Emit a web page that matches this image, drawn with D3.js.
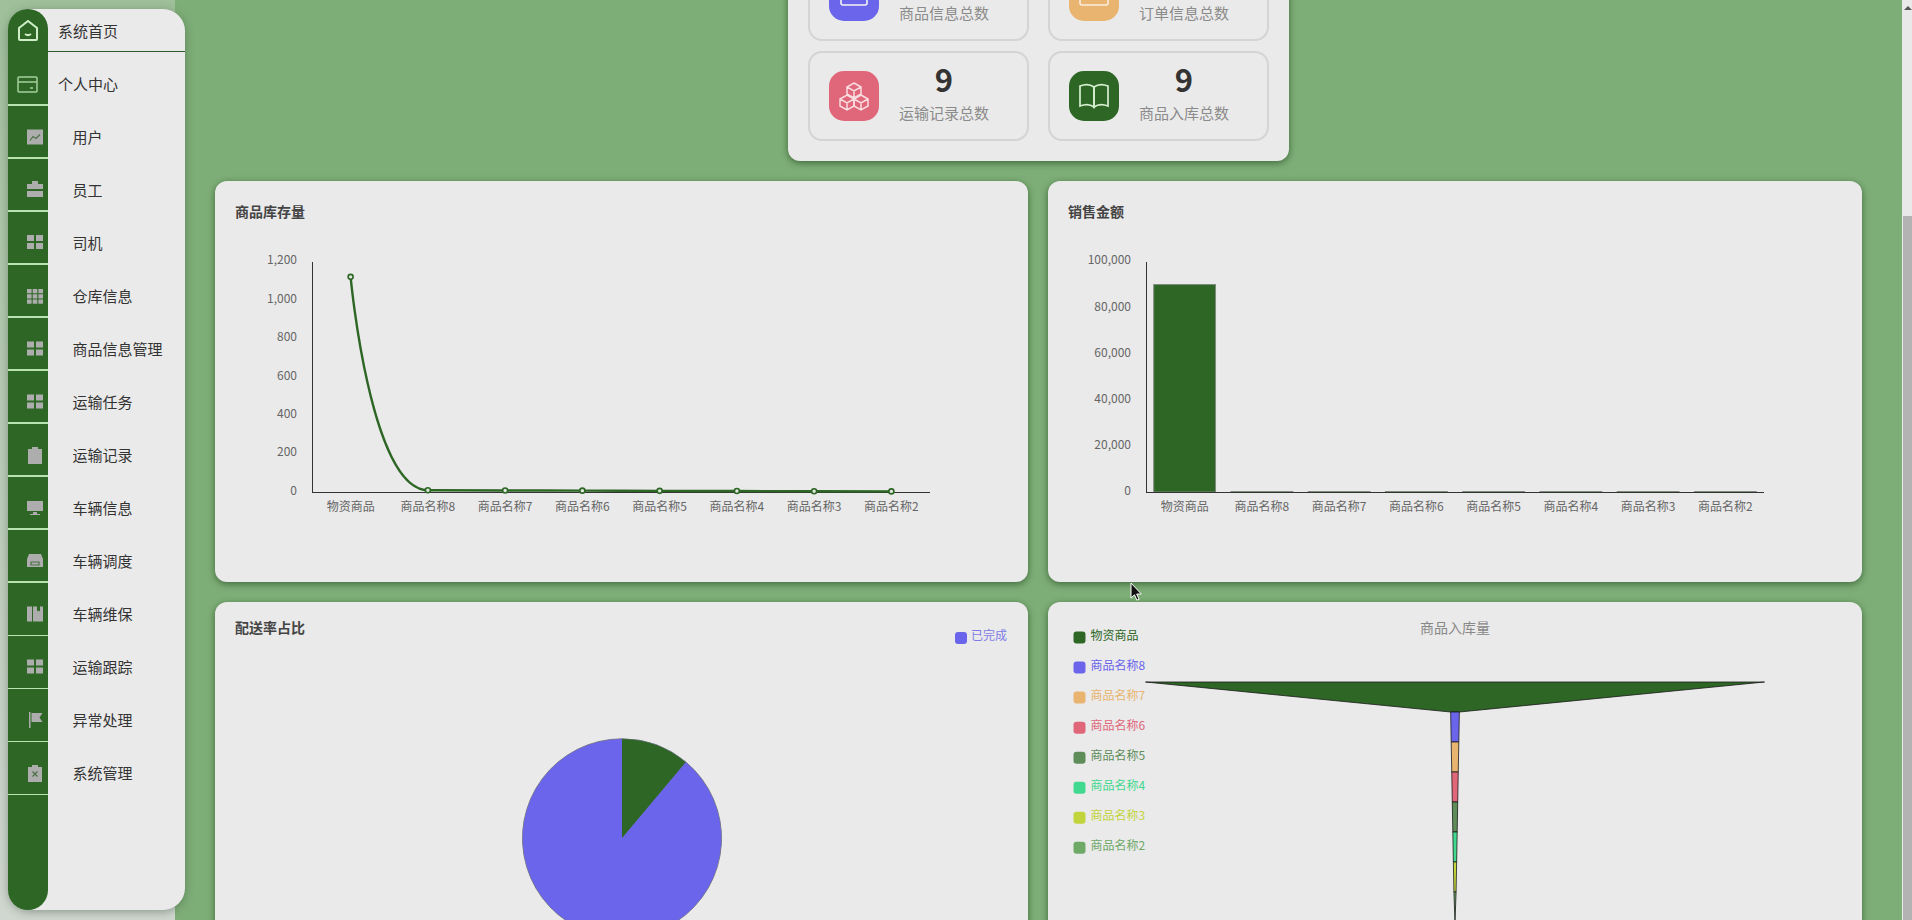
<!DOCTYPE html>
<html lang="zh">
<head>
<meta charset="utf-8">
<title>物流管理系统</title>
<script src="https://cdn.jsdelivr.net/npm/d3@7/dist/d3.min.js"></script>
<style>
html,body{margin:0;padding:0;width:1912px;height:920px;overflow:hidden;background:#7eae77;font-family:"Noto Sans CJK SC","Noto Sans",sans-serif;}
#leftbg{position:absolute;left:0;top:0;width:175px;height:920px;background:linear-gradient(#9fbf9a 0%,#b9cbb6 45%,#d0d7d0 100%);}
#main{position:absolute;left:175px;top:0;width:1727px;height:920px;background:#7eae77;}
#scrollbar{position:absolute;left:1902px;top:0;width:10px;height:920px;background:#e9e9e9;}
#thumb{position:absolute;left:1px;top:216px;width:9px;height:704px;background:#b3b3b3;}
#arrow{position:absolute;left:2px;top:6px;width:0;height:0;border-left:4px solid transparent;border-right:4px solid transparent;border-bottom:4px solid #555;}
.card{position:absolute;background:#eaeaea;border-radius:12px;box-shadow:0 2px 7px rgba(20,60,20,.6);}
.tile{position:absolute;box-sizing:border-box;border:2px solid #d4d4d4;border-radius:14px;height:90px;width:221px;}
.ico{position:absolute;left:19px;top:18px;width:50px;height:50px;border-radius:15px;}
.num{position:absolute;left:69px;width:130px;text-align:center;top:8px;font-size:31px;font-weight:700;color:#333;line-height:36px;}
.lab{position:absolute;left:69px;width:130px;text-align:center;top:49px;font-size:15px;color:#8b8b8b;line-height:22px;}
#side{position:absolute;left:8px;top:9px;width:177px;height:901px;background:#eaeaea;border-radius:22px;box-shadow:0 2px 10px rgba(60,80,60,.45);}
#rail{position:absolute;left:0;top:0;width:40px;height:901px;background:#2d6625;border-radius:20px;}
.sep{position:absolute;left:0;width:40px;height:1.5px;background:#b9e3b0;}
.item{position:absolute;font-size:15px;color:#333;line-height:22px;white-space:nowrap;}
#chartSvg{position:absolute;left:0;top:0;}
#chartSvg text{font-family:"Noto Sans CJK SC","Noto Sans",sans-serif;}
</style>
</head>
<body>
<div id="leftbg"></div>
<div id="main"></div>
<div id="scrollbar"><div id="arrow"></div><div id="thumb"></div></div>
<div id="side"><div id="rail"></div></div>
<div id="cards"></div>
<svg id="chartSvg" width="1912" height="920"></svg>
<script>
// ---------- data ----------
const categories = ["物资商品","商品名称8","商品名称7","商品名称6","商品名称5","商品名称4","商品名称3","商品名称2"];
const stockValues = [1120,9,8,7,6,5,4,3];
const salesValues = [90000,200,200,200,200,200,200,200];
const inboundValues = [570,8,7,6,5,4,3,2];
const stockTicks = [0,200,400,600,800,1000,1200];
const salesTicks = [0,20000,40000,60000,80000,100000];
const pieValues = [1,8];
const pieLegend = ["已完成"];
const palette = ["#2d6625","#6a65ea","#e8b46f","#e0677a","#5e8d5a","#41d98f","#c2d43c","#6ea968"];
const menuTop = ["系统首页","个人中心"];
const menuSub = ["用户","员工","司机","仓库信息","商品信息管理","运输任务","运输记录","车辆信息","车辆调度","车辆维保","运输跟踪","异常处理","系统管理"];
const statNames = ["商品信息总数","订单信息总数","运输记录总数","商品入库总数"];
// the numbers of the first row are scrolled out of the picture
const statValues = [null,null,9,9];
const statColors = ["#6a65ea","#e8b46f","#e0677a","#2d6625"];

// ---------- page chrome ----------
const cards = d3.select("#cards");
function card(x,y,w,h){return cards.append("div").attr("class","card").style("left",x+"px").style("top",y+"px").style("width",w+"px").style("height",h+"px");}
const statCard = card(788,-40,501,201);
card(215,181,813,401);
card(1048,181,814,401);
card(215,602,813,420);
card(1048,602,814,420);

const tilePos = [[20,-9],[260,-9],[20,91],[260,91]];
const iconPaths = [
  '<rect x="12" y="6" width="26" height="28" rx="2" fill="none" stroke="#f4f4f4" stroke-width="1.6"/><path d="M19 26h12" stroke="#f4f4f4" stroke-width="1.6"/>',
  '<rect x="11" y="6" width="28" height="28" rx="2" fill="none" stroke="#fbeedd" stroke-width="1.6"/><path d="M20 26h10" stroke="#fbeedd" stroke-width="1.6"/>',
  '<g fill="none" stroke="#f9dde1" stroke-width="1.5"><path d="M25 12l7 4v7l-7 4-7-4v-7z M18 16l7 4 7-4 M25 20v7"/><path d="M18 24l7 4v7l-7 4-7-4v-7z M11 28l7 4 7-4 M18 32v7"/><path d="M32 24l7 4v7l-7 4-7-4v-7z M25 28l7 4 7-4 M32 32v7"/></g>',
  '<g fill="none" stroke="#d6efcf" stroke-width="1.7"><path d="M11 15c5-2 10-2 14 1v20c-4-3-9-3-14-1z"/><path d="M39 15c-5-2-10-2-14 1v20c4-3 9-3 14-1z"/></g>'
];
statNames.forEach((name,i)=>{
  const t = statCard.append("div").attr("class","tile").style("left",tilePos[i][0]+"px").style("top",tilePos[i][1]+"px");
  t.append("div").attr("class","ico").style("background",statColors[i])
    .html('<svg width="50" height="50">'+iconPaths[i]+'</svg>');
  if(statValues[i]!==null) t.append("div").attr("class","num").text(statValues[i]);
  t.append("div").attr("class","lab").text(name);
});

// sidebar
const side = d3.select("#side"), rail = d3.select("#rail");
const rowH = 53.05;
menuTop.forEach((m,i)=>{
  side.append("div").attr("class","item").style("left","50px").style("top",(i===0?11:64)+"px").text(m);
});
side.append("div").style("position","absolute").style("left","40px").style("top","42px").style("width","137px").style("height","1.2px").style("background","#2d5a28");
menuSub.forEach((m,i)=>{
  side.append("div").attr("class","item").style("left","64.5px").style("top",(116.6+i*rowH)+"px").text(m);
});
d3.range(14).forEach(i=>{
  rail.append("div").attr("class","sep").style("top",(95+i*rowH)+"px");
});
const iconColor="#adadad";
const railSvg = rail.append("svg").attr("width",40).attr("height",901).style("position","absolute").style("left",0).style("top",0);
railSvg.append("path").attr("fill","none").attr("stroke","#cfeec8").attr("stroke-width",2)
  .attr("d","M11 19l9-7 9 7v11a1 1 0 0 1-1 1h-16a1 1 0 0 1-1-1z M17 25c2 1.5 4 1.5 6 0");
railSvg.append("path").attr("fill","none").attr("stroke","#a4d09c").attr("stroke-width",1.5)
  .attr("d","M11 68h17a1 1 0 0 1 1 1v13a1 1 0 0 1-1 1h-17a1 1 0 0 1-1-1v-13a1 1 0 0 1 1-1z M10 73h19 M22 79h3");
const gridIcon="M0 0h7v6h-7z M9 0h7v6h-7z M0 8h7v6h-7z M9 8h7v6h-7z";
const grid9="M0 0h4.6v4.2h-4.6z M5.7 0h4.6v4.2h-4.6z M11.4 0h4.6v4.2h-4.6z M0 5.3h4.6v4.2h-4.6z M5.7 5.3h4.6v4.2h-4.6z M11.4 5.3h4.6v4.2h-4.6z M0 10.6h4.6v4.2h-4.6z M5.7 10.6h4.6v4.2h-4.6z M11.4 10.6h4.6v4.2h-4.6z";
const subIcons = [
  "M0 0h16v15h-16z",
  "M5 2v-3h6v3h5v5h-16v-5z M0 9h16v6h-16z",
  gridIcon, grid9, gridIcon, gridIcon,
  "M1 1h4v-2h6v2h4v15h-14z",
  "M0 0h16v10h-16z M6 11h4v2h3v1h-10v-1h3z",
  "M2 0h12l2 5v8h-16v-8z",
  "M0 0h5v15h-5z M6 0h4v5l1.5-1 1.5 1v-5h3v15h-10z",
  gridIcon,
  "M2 -1h1.5v16h-1.5z M4.5 0h11l-3 4.5 3 4.5h-11z",
  "M1 1h4v-2h6v2h4v15h-14z"
];
const iconDetail = {
  0:"M3 11l3-4 3 2 4-4",
  8:"M4 8h8v3h-8z",
  12:"M5.5 5.5l5 5 M10.5 5.5l-5 5"
};
const iconYs = [129.5,182,235,289,341.5,394.5,448,501,554,606.5,659.5,713,766];
subIcons.forEach((d,i)=>{
  const tr="translate(19,"+(iconYs[i]-9)+")";
  railSvg.append("path").attr("transform",tr).attr("fill",iconColor).attr("d",d);
  if(iconDetail[i]) railSvg.append("path").attr("transform",tr).attr("fill","none").attr("stroke","#4c7046").attr("stroke-width",1.2).attr("d",iconDetail[i]);
});

// ---------- charts ----------
const svg = d3.select("#chartSvg");
const fmt = d3.format(",");
const tickFill="#666";

// ECharts-like smooth segment curve
function smoothCurve(context){
  const smooth=0.5; let pts=[];
  return {
    areaStart(){},areaEnd(){},
    lineStart(){pts=[];},
    point(x,y){pts.push([x,y]);},
    lineEnd(){
      context.moveTo(pts[0][0],pts[0][1]);
      let cpx=pts[0][0],cpy=pts[0][1];
      for(let i=1;i<pts.length;i++){
        const [x,y]=pts[i],[px,py]=pts[i-1];
        const n=pts[i+1];
        if(!n){context.bezierCurveTo(cpx,cpy,x,y,x,y);break;}
        const vx=n[0]-px,vy=n[1]-py;
        const lp=Math.hypot(x-px,y-py),ln=Math.hypot(n[0]-x,n[1]-y);
        const ratio=ln/(ln+lp);
        let c1x=x+vx*smooth*ratio,c1y=y+vy*smooth*ratio;
        c1x=Math.min(c1x,Math.max(n[0],x));c1y=Math.min(c1y,Math.max(n[1],y));
        c1x=Math.max(c1x,Math.min(n[0],x));c1y=Math.max(c1y,Math.min(n[1],y));
        let dx=c1x-x,dy=c1y-y;
        let c0x=x-dx*lp/ln,c0y=y-dy*lp/ln;
        c0x=Math.min(c0x,Math.max(px,x));c0y=Math.min(c0y,Math.max(py,y));
        c0x=Math.max(c0x,Math.min(px,x));c0y=Math.max(c0y,Math.min(py,y));
        dx=x-c0x;dy=y-c0y;
        c1x=x+dx*ln/lp;c1y=y+dy*ln/lp;
        context.bezierCurveTo(cpx,cpy,c0x,c0y,x,y);
        cpx=c1x;cpy=c1y;
      }
    }
  };
}

function axes(g,x,y,ticks){
  const ax=g.append("g").attr("transform","translate(0,"+y.range()[0]+")")
    .call(d3.axisBottom(x).tickSize(0).tickPadding(8));
  ax.select(".domain").attr("stroke","#333").attr("d","M"+x.range()[0]+",0.5H"+x.range()[1]);
  ax.selectAll("text").attr("fill",tickFill).attr("font-size",12).attr("dy","0.9em");
  const ay=g.append("g").attr("transform","translate("+x.range()[0]+",0)")
    .call(d3.axisLeft(y).tickValues(ticks).tickFormat(fmt).tickSize(0).tickPadding(15));
  ay.select(".domain").attr("stroke","#333");
  ay.selectAll("text").attr("fill",tickFill).attr("font-size",12).attr("dy","0.2em");
}
function title(txt,x,y){
  svg.append("text").attr("x",x).attr("y",y).attr("font-size",14).attr("font-weight",700).attr("fill","#444").attr("dominant-baseline","middle").text(txt);
}

// stock line
title("商品库存量",235,213.5);
const g1=svg.append("g");
const x1=d3.scaleBand().domain(categories).range([312,930]);
const y1=d3.scaleLinear().domain([0,1200]).range([492,261.5]);
axes(g1,x1,y1,stockTicks);
const lineGen=d3.line().x((d,i)=>x1(categories[i])+x1.bandwidth()/2).y(d=>y1(d)).curve(smoothCurve);
g1.append("path").datum(stockValues).attr("fill","none").attr("stroke","#2d6625").attr("stroke-width",2.4).attr("d",lineGen);
g1.selectAll("circle").data(stockValues).join("circle")
  .attr("cx",(d,i)=>x1(categories[i])+x1.bandwidth()/2).attr("cy",d=>y1(d)).attr("r",2.5)
  .attr("fill","#dfe8dd").attr("stroke","#2d6625").attr("stroke-width",1.6);

// sales bars
title("销售金额",1068,213.5);
const g2=svg.append("g");
const x2=d3.scaleBand().domain(categories).range([1146,1764]).paddingInner(0.2).paddingOuter(0.1);
const y2=d3.scaleLinear().domain([0,100000]).range([492,261.5]);
const x2axis=d3.scaleBand().domain(categories).range([1146,1764]);
g2.selectAll("rect").data(salesValues).join("rect")
  .attr("x",(d,i)=>x2(categories[i])).attr("width",x2.bandwidth())
  .attr("y",d=>y2(d)).attr("height",d=>y2(0)-y2(d))
  .attr("fill","#2d6625").attr("stroke","#7f8a7d").attr("stroke-width",1);
axes(g2,x2axis,y2,salesTicks);

// pie
title("配送率占比",235,629);
const pieG=svg.append("g").attr("transform","translate(622,838.3)");
const pie=d3.pie().sort(null)(pieValues);
const arc=d3.arc().innerRadius(0).outerRadius(99.5);
pieG.selectAll("path").data(pie).join("path").attr("d",arc)
  .attr("fill",(d,i)=>palette[i]).attr("stroke","#77778a").attr("stroke-width",1);
pieG.append("g").selectAll("path").data(pie).join("path").attr("d",d3.arc().innerRadius(0).outerRadius(99)).attr("fill",(d,i)=>palette[i]);
const pl=svg.append("g").selectAll("g").data(pieLegend).join("g").attr("transform","translate(955,632)");
pl.append("rect").attr("width",12).attr("height",12).attr("rx",3).attr("fill",palette[1]);
pl.append("text").attr("x",16).attr("y",5).attr("font-size",12).attr("fill","#7f7be6").attr("dominant-baseline","middle").text(d=>d);

// funnel
svg.append("text").attr("x",1455).attr("y",629).attr("font-size",14).attr("fill","#888").attr("text-anchor","middle").attr("dominant-baseline","middle").text("商品入库量");
const fy=d3.scaleBand().domain(categories).range([682,922]);
const fw=d3.scaleLinear().domain([0,d3.max(inboundValues)]).range([0,619]);
const polygon=d3.line();
const cx=1455;
const funnelG=svg.append("g");
funnelG.selectAll("path").data(inboundValues).join("path")
  .attr("d",(d,i)=>{
    const top=fy(categories[i]),bot=top+fy.bandwidth();
    const w0=fw(d),w1=fw(i+1<inboundValues.length?inboundValues[i+1]:0);
    return polygon([[cx-w0/2,top],[cx+w0/2,top],[cx+w1/2,bot],[cx-w1/2,bot]])+"Z";
  })
  .attr("fill",(d,i)=>palette[i]).attr("stroke","#1a1a1a").attr("stroke-width",0.8).attr("stroke-linejoin","round");
const fl=svg.append("g").selectAll("g").data(categories).join("g").attr("transform",(d,i)=>"translate(1073.5,"+(631.5+i*30.05)+")");
fl.append("rect").attr("width",12).attr("height",12).attr("rx",3).attr("fill",(d,i)=>palette[i]);
fl.append("text").attr("x",17).attr("y",5).attr("font-size",12).attr("dominant-baseline","middle").attr("fill",(d,i)=>palette[i]).text(d=>d);

// mouse pointer
svg.append("path").attr("transform","translate(1131,583)").attr("d","M0 0v15l3.5-3.2 2.4 5.4 2.2-1-2.4-5.2h4.6z").attr("fill","#111").attr("stroke","#fff").attr("stroke-width",1);
</script>
</body>
</html>
